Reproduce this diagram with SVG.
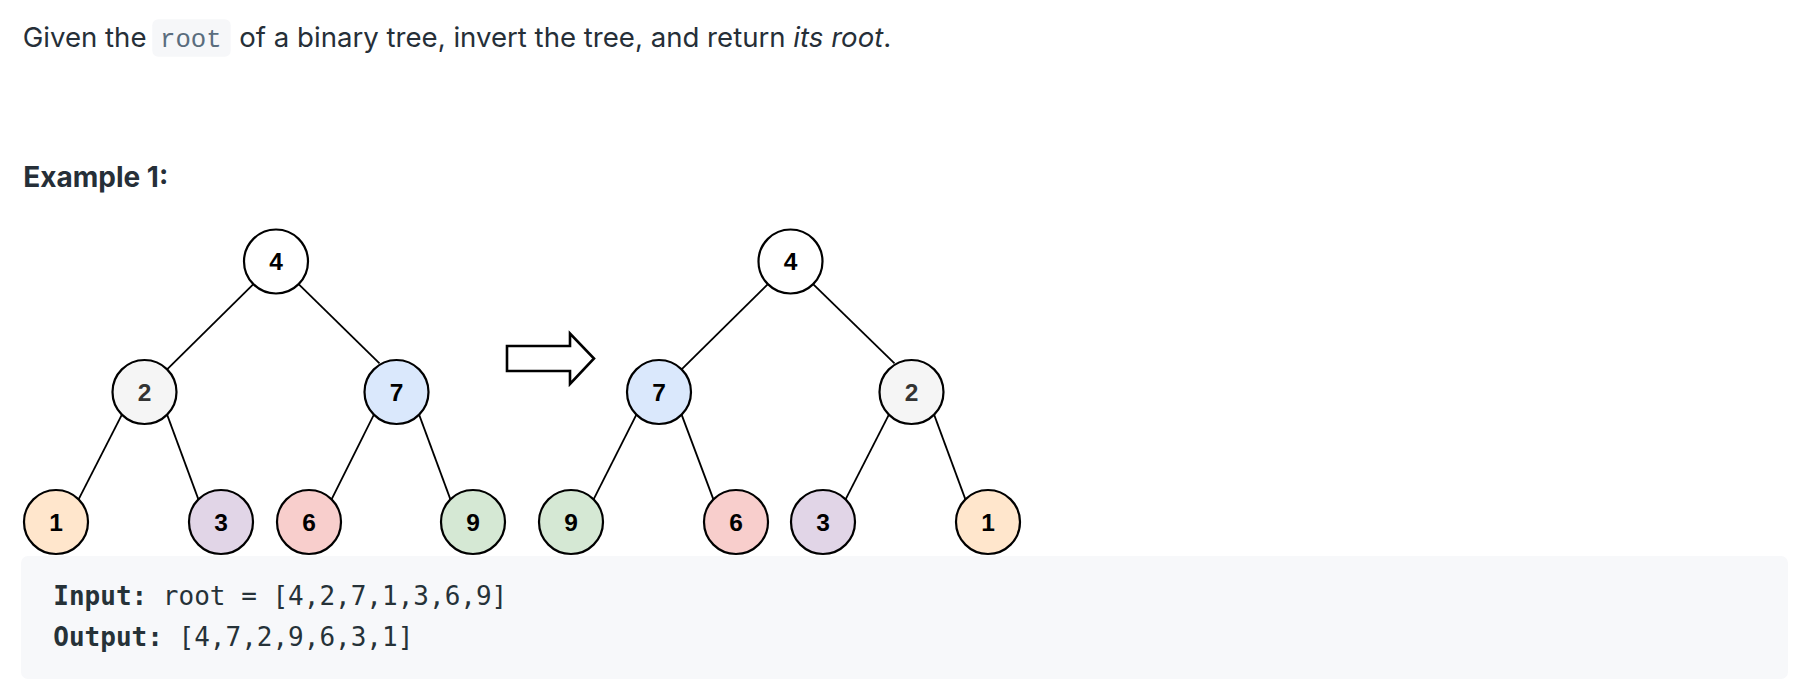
<svg xmlns="http://www.w3.org/2000/svg" width="1804" height="696" viewBox="0 0 1804 696">
  <style>
    .body { font-family: Inter, "Noto Sans", "Liberation Sans", sans-serif; font-size: 27.6px; fill: #262f38; }
    .mono { font-family: "DejaVu Sans Mono", "Liberation Mono", monospace; font-size: 26px; }
    .inline { font-family: "Liberation Mono", "DejaVu Sans Mono", monospace; font-size: 25.7px; }
    .node circle { stroke: #000; stroke-width: 2.2; }
    .node text { font-family: "Liberation Sans", Arial, sans-serif; font-weight: bold; font-size: 24.5px; text-anchor: middle; fill: #000; }
    .edges line { stroke: #000; stroke-width: 1.8; }
    .c4 { fill: #ffffff; } .c2 { fill: #f5f5f5; } .c7 { fill: #dae8fc; }
    .c1 { fill: #ffe6cc; } .c3 { fill: #e1d5e7; } .c6 { fill: #f8cecc; } .c9 { fill: #d5e8d4; }
  </style>
  <rect width="1804" height="696" fill="#ffffff"/>

  <!-- description line -->
  <rect x="152.3" y="19.3" width="78.4" height="37.4" rx="6" fill="#f6f7f9"/>
  <text class="body" x="22.7" y="47.3">Given the</text>
  <text class="inline" x="160" y="47.3" fill="#5a6d7e">root</text>
  <text class="body" x="239.3" y="47.3">of a binary tree, invert the tree, and return <tspan font-style="italic">its root</tspan>.</text>

  <text class="body" x="23.3" y="187.3" font-weight="bold" style="font-size:28px">Example 1:</text>

  <!-- connectors -->
  <g id="edges" class="edges">
    <line x1="253.4" y1="284.1" x2="167.1" y2="369.4"/>
    <line x1="298.6" y1="284.1" x2="379.5" y2="363.3"/>
    <line x1="121.9" y1="414.6" x2="78.6" y2="499.4"/>
    <line x1="167.1" y1="414.6" x2="198.4" y2="499.4"/>
    <line x1="373.9" y1="414.6" x2="331.6" y2="499.4"/>
    <line x1="419.1" y1="414.6" x2="450.4" y2="499.4"/>
    <line x1="767.9" y1="284.1" x2="681.6" y2="369.4"/>
    <line x1="813.1" y1="284.1" x2="894.5" y2="363.3"/>
    <line x1="636.4" y1="414.6" x2="593.6" y2="499.4"/>
    <line x1="681.6" y1="414.6" x2="713.4" y2="499.4"/>
    <line x1="888.9" y1="414.6" x2="845.6" y2="499.4"/>
    <line x1="934.1" y1="414.6" x2="965.4" y2="499.4"/>
  </g>

  <!-- left tree -->
  <g id="L4" class="node"><circle class="c4" cx="276" cy="261.5" r="32"/><text x="276" y="270.3">4</text></g>
  <g id="L2" class="node"><circle class="c2" cx="144.5" cy="392" r="32"/><text x="144.5" y="400.8" style="fill:#333333">2</text></g>
  <g id="L7" class="node"><circle class="c7" cx="396.5" cy="392" r="32"/><text x="396.5" y="400.8">7</text></g>
  <g id="L1" class="node"><circle class="c1" cx="56" cy="522" r="32"/><text x="56" y="530.8">1</text></g>
  <g id="L3" class="node"><circle class="c3" cx="221" cy="522" r="32"/><text x="221" y="530.8">3</text></g>
  <g id="L6" class="node"><circle class="c6" cx="309" cy="522" r="32"/><text x="309" y="530.8">6</text></g>
  <g id="L9" class="node"><circle class="c9" cx="473" cy="522" r="32"/><text x="473" y="530.8">9</text></g>

  <!-- arrow -->
  <g id="arrow">
    <polygon points="507,346 570,346 570,333.5 594,358.5 570,384 570,371 507,371" fill="#ffffff" stroke="#000" stroke-width="2.6" stroke-linejoin="miter"/>
  </g>

  <!-- right tree -->
  <g id="R4" class="node"><circle class="c4" cx="790.5" cy="261.5" r="32"/><text x="790.5" y="270.3">4</text></g>
  <g id="R7" class="node"><circle class="c7" cx="659" cy="392" r="32"/><text x="659" y="400.8">7</text></g>
  <g id="R2" class="node"><circle class="c2" cx="911.5" cy="392" r="32"/><text x="911.5" y="400.8" style="fill:#333333">2</text></g>
  <g id="R9" class="node"><circle class="c9" cx="571" cy="522" r="32"/><text x="571" y="530.8">9</text></g>
  <g id="R6" class="node"><circle class="c6" cx="736" cy="522" r="32"/><text x="736" y="530.8">6</text></g>
  <g id="R3" class="node"><circle class="c3" cx="823" cy="522" r="32"/><text x="823" y="530.8">3</text></g>
  <g id="R1" class="node"><circle class="c1" cx="988" cy="522" r="32"/><text x="988" y="530.8">1</text></g>

  <!-- code block -->
  <rect x="21" y="556" width="1767" height="123" rx="7" fill="#f7f8fa"/>
  <text class="mono" x="53.3" y="605" fill="#263238"><tspan font-weight="bold">Input:</tspan> root = [4,2,7,1,3,6,9]</text>
  <text class="mono" x="53.3" y="646" fill="#263238"><tspan font-weight="bold">Output:</tspan> [4,7,2,9,6,3,1]</text>
</svg>
